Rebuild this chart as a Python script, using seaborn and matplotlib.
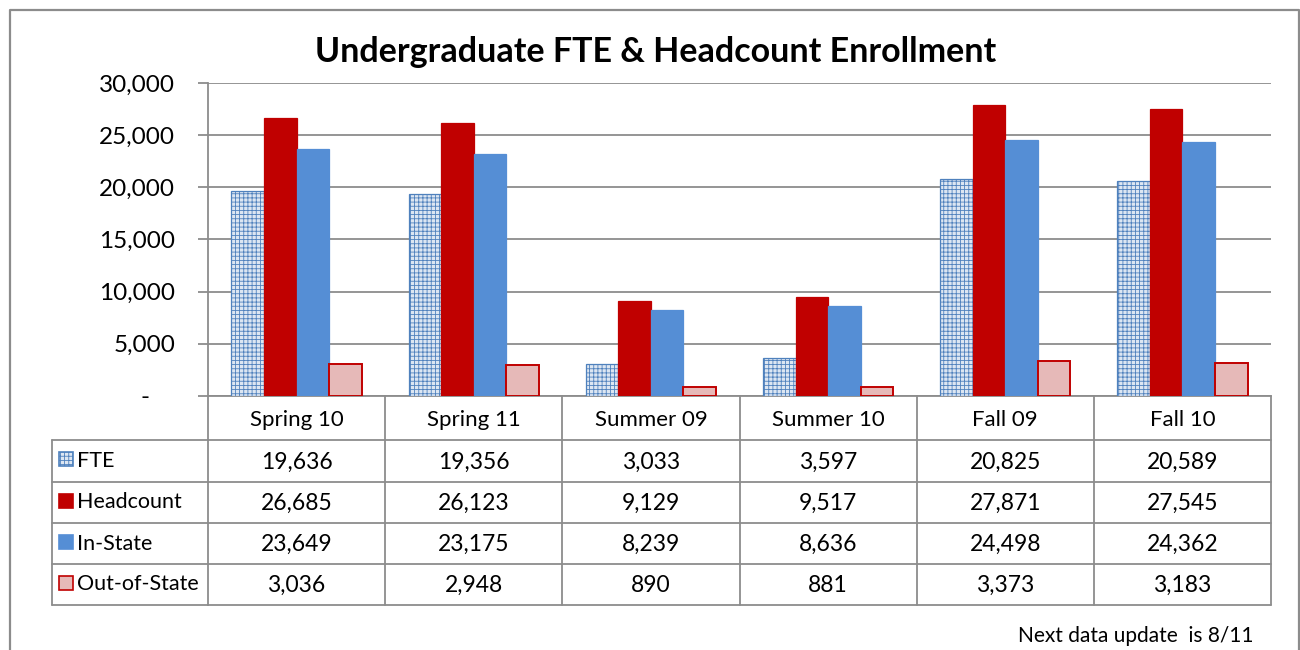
import pandas as pd
import matplotlib
matplotlib.use("Agg")
import matplotlib.pyplot as plt
import matplotlib.transforms as mtransforms
from matplotlib.patches import Rectangle
from matplotlib.lines import Line2D
from matplotlib.ticker import FuncFormatter
import seaborn as sns

# --------------------------
# Data
# --------------------------
terms = ["Spring 10", "Spring 11", "Summer 09", "Summer 10", "Fall 09", "Fall 10"]
series_names = ["FTE", "Headcount", "In-State", "Out-of-State"]
fte = [19636, 19356, 3033, 3597, 20825, 20589]
headcount = [26685, 26123, 9129, 9517, 27871, 27545]
in_state = [23649, 23175, 8239, 8636, 24498, 24362]
out_state = [3036, 2948, 890, 881, 3373, 3183]
y_ticks = [0, 5000, 10000, 15000, 20000, 25000, 30000]

title = "Undergraduate FTE & Headcount Enrollment"
note = "Next data update  is 8/11"

# styles per series: face, edge, hatch
face = {"FTE": "#DCE6F2", "Headcount": "#C00000", "In-State": "#558ED5", "Out-of-State": "#E6B9B8"}
edge = {"FTE": "#4F81BD", "Headcount": "#C00000", "In-State": "#558ED5", "Out-of-State": "#C00000"}
hatch = {"FTE": "++++", "Headcount": None, "In-State": None, "Out-of-State": None}
grid_col = "#8C8C8C"

df = pd.DataFrame({"Term": terms, "FTE": fte, "Headcount": headcount,
                   "In-State": in_state, "Out-of-State": out_state})
long_df = df.melt(id_vars="Term", var_name="Series", value_name="Students")

sns.set_theme(style="white")
plt.rcParams["font.family"] = ["Lato", "DejaVu Sans"]
plt.rcParams["text.color"] = "black"
plt.rcParams["hatch.linewidth"] = 0.6

fig = plt.figure(figsize=(13, 6.5), dpi=100)
W, H = 1300, 650
ax = fig.add_axes([208 / W, 1 - 396 / H, (1271 - 208) / W, (396 - 83) / H])

sns.barplot(data=long_df, x="Term", y="Students", hue="Series", order=terms,
            hue_order=series_names, width=0.735, gap=0, legend=False,
            palette=face, saturation=1, ax=ax, zorder=3)

for name, cont in zip(series_names, ax.containers):
    for bar in cont:
        bar.set_facecolor(face[name])
        bar.set_edgecolor(edge[name])
        bar.set_linewidth(1.4 if name == "Out-of-State" else 0.9)
        if hatch[name]:
            bar.set_hatch(hatch[name])

ax.set_xlim(-0.5, len(terms) - 0.5)
ax.set_ylim(0, 30000)
ax.set_yticks(y_ticks)
ax.yaxis.set_major_formatter(FuncFormatter(lambda v, p: "-    " if v == 0 else f"{v:,.0f}"))
ax.set_xticks([])
ax.set_xlabel("")
ax.set_ylabel("")
ax.yaxis.grid(True, color=grid_col, linewidth=1.3, zorder=0)
ax.set_axisbelow(True)
for s in ["top", "right"]:
    ax.spines[s].set_visible(False)
for s in ["left", "bottom"]:
    ax.spines[s].set_color(grid_col)
    ax.spines[s].set_linewidth(1.3)
ax.tick_params(axis="y", left=True, length=7.5, width=1.3, color=grid_col,
               pad=16, labelsize=17.5, labelcolor="black")

# --------------------------
# Overlay: title, data table, border
# --------------------------
ov = fig.add_axes([0, 0, 1, 1], zorder=-1)
ov.set_xlim(0, W)
ov.set_ylim(H, 0)
ov.axis("off")
ov.patch.set_alpha(0)
trans = mtransforms.blended_transform_factory(ax.transData, ov.transData)

ov.text(656, 52, title, ha="center", va="center", fontsize=24.5, fontweight="bold",
        color="black")

row_edges = [440, 482, 523, 564, 605]
head_top, lab_left = 396, 52
x0, x1 = -0.5, len(terms) - 0.5

for y in row_edges:
    fig.add_artist(Line2D([x0, x1], [y, y], transform=trans, color=grid_col, lw=1.3))
    ov.add_line(Line2D([lab_left, 208], [y, y], color=grid_col, lw=1.3))
ov.add_line(Line2D([lab_left, lab_left], [row_edges[0], row_edges[-1]], color=grid_col, lw=1.3))
for i in range(len(terms) + 1):
    fig.add_artist(Line2D([x0 + i, x0 + i], [head_top, row_edges[-1]], transform=trans,
                          color=grid_col, lw=1.3))

tsize = 16
# header
for i, t in enumerate(terms):
    fig.text(i, (head_top + row_edges[0]) / 2 + 2, t, transform=trans,
             ha="center", va="center", fontsize=tsize, color="black")

# rows
values = [fte, headcount, in_state, out_state]
for r, (name, vals) in enumerate(zip(series_names, values)):
    yc = (row_edges[r] + row_edges[r + 1]) / 2
    sw = Rectangle((59, yc - 9), 14, 14, facecolor=face[name], edgecolor=edge[name],
                   hatch=hatch[name], lw=1.2)
    ov.add_patch(sw)
    ov.text(77, yc, name, ha="left", va="center", fontsize=15.5, color="black")
    for i, v in enumerate(vals):
        fig.text(i, yc + 1, f"{v:,}", transform=trans, ha="center", va="center",
                 fontsize=tsize + 0.5, color="black")

ov.text(1253, 636, note, ha="right", va="center", fontsize=15, color="black")

# chart border
ov.add_line(Line2D([10, 10, 1299, 1299], [H + 5, 10, 10, H + 5], color=grid_col, lw=1.6))

fig.savefig("out.png", dpi=100)
